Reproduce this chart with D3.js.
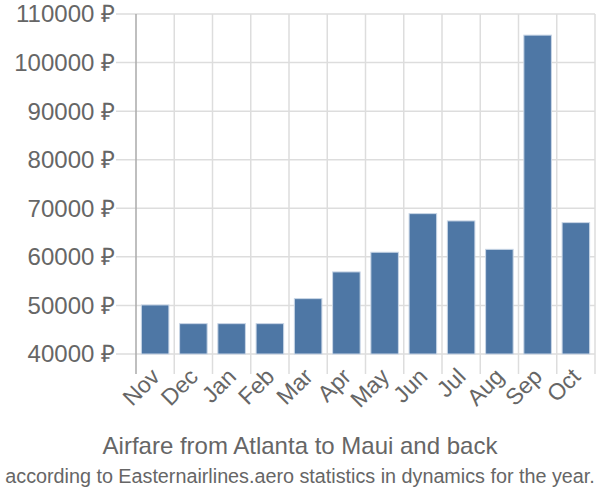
<!DOCTYPE html>
<html><head><meta charset="utf-8">
<script src="https://cdn.jsdelivr.net/npm/d3@7"></script>
<style>body{margin:0;background:#fff}svg{display:block}text{font-family:"Liberation Sans",Arial,sans-serif}</style>
</head><body>
<svg id="c" width="600" height="500"></svg>
<script>
const months = ["Nov","Dec","Jan","Feb","Mar","Apr","May","Jun","Jul","Aug","Sep","Oct"];
const prices = [50100,46250,46250,46250,51400,56900,60950,68900,67400,61550,105650,67050];
const yTicks = [40000,50000,60000,70000,80000,90000,100000,110000];
const title = "Airfare from Atlanta to Maui and back";
const subtitle = "according to Easternairlines.aero statistics in dynamics for the year.";

const svg = d3.select("#c");
const L = 136, R = 595, T = 14, B = 354;
const x = d3.scaleBand().domain(months).range([L, R]).paddingInner(0.28).paddingOuter(0.14);
const xg = d3.scaleBand().domain(months).range([L, R]);
const y = d3.scaleLinear().domain([40000,110000]).range([B, T]);

// horizontal grid
svg.append("g").selectAll("line").data(yTicks).join("line")
  .attr("x1", L-20).attr("x2", R).attr("y1", d=>y(d)).attr("y2", d=>y(d))
  .attr("stroke","#ddd").attr("stroke-width",1.5);
// vertical grid
svg.append("g").selectAll("line").data(months).join("line")
  .attr("x1", (d,i)=> L + (i+1)*xg.step()).attr("x2",(d,i)=> L + (i+1)*xg.step())
  .attr("y1", T).attr("y2", B+20)
  .attr("stroke","#ddd").attr("stroke-width",1.5);
// left axis line
svg.append("line").attr("x1",L).attr("x2",L).attr("y1",T).attr("y2",B+20)
  .attr("stroke","#aaa").attr("stroke-width",1.5);

// y labels
svg.append("g").selectAll("text").data(yTicks).join("text")
  .attr("x", L-21).attr("y", d=>y(d)).attr("dy","0.35em")
  .attr("text-anchor","end").attr("fill","#666").attr("font-size",24)
  .text(d=>d+" \u20bd");

// bars
svg.append("g").selectAll("rect").data(prices).join("rect")
  .attr("x",(d,i)=>x(months[i])).attr("width",x.bandwidth())
  .attr("y",d=>y(d)).attr("height",d=>B-y(d))
  .attr("fill","#4e77a5").attr("stroke","#c9d6e6").attr("stroke-width",1);

// x labels
svg.append("g").selectAll("text").data(months).join("text")
  .attr("transform", d=>`translate(${xg(d)+xg.bandwidth()/2+6},${B+24}) rotate(-45)`)
  .attr("text-anchor","end").attr("fill","#666").attr("font-size",23)
  .text(d=>d);

svg.append("text").attr("x",300).attr("y",454).attr("text-anchor","middle")
  .attr("fill","#666").attr("font-size",24).text(title);
const sub = svg.append("text").attr("x",0).attr("y",0).attr("text-anchor","middle")
  .attr("fill","#666").attr("font-size",21).text(subtitle);
const natural = sub.node().getComputedTextLength();
const sx = Math.min(1, 590 / natural);
sub.attr("transform", `translate(300,483) scale(${sx},1)`);
</script>
</body></html>
